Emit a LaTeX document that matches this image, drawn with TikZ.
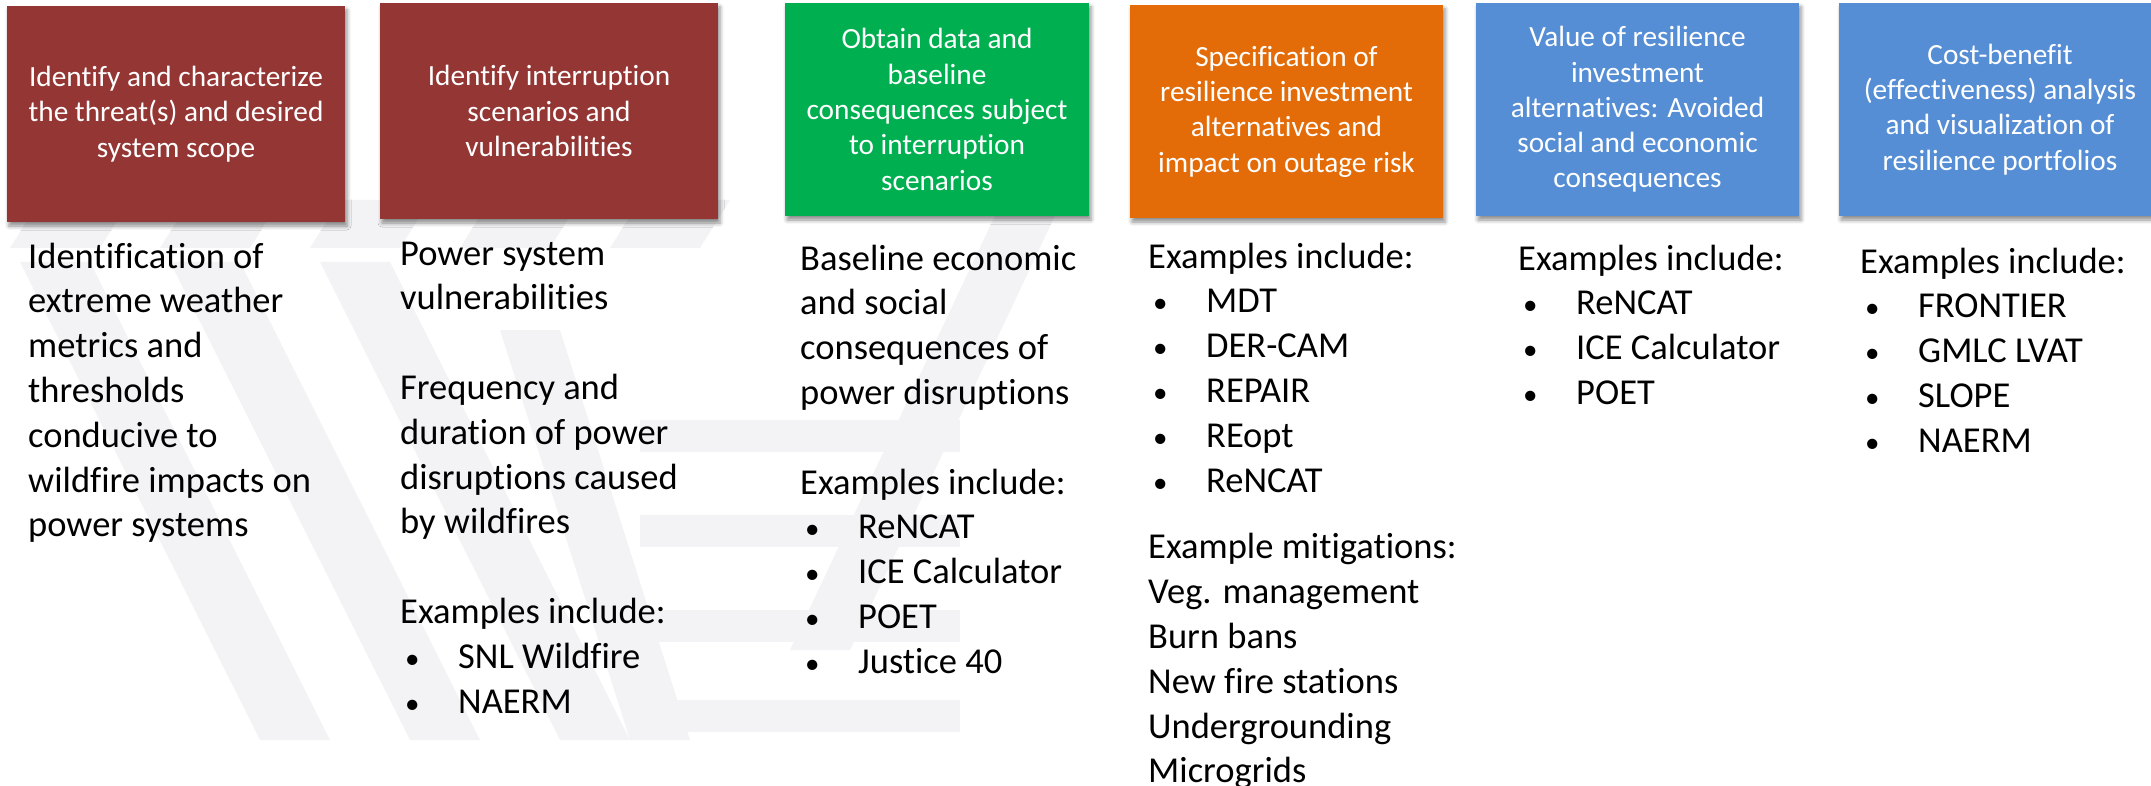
\documentclass[tikz,border=0pt]{standalone}
\usepackage{fontspec}
\setmainfont[Ligatures={NoCommon}]{Carlito}
\usetikzlibrary{shadows.blur}

\definecolor{stepred}{HTML}{943634}
\definecolor{stepgreen}{HTML}{00B050}
\definecolor{steporange}{HTML}{E36C09}
\definecolor{stepblue}{HTML}{558ED5}
\definecolor{markgray}{HTML}{F3F3F5}

% bullet item of a tool list
\newcommand{\toolitem}[1]{\makebox[58pt][l]{\hspace{5pt}{\fontsize{29}{29}\selectfont •}}#1}

\begin{document}
\begin{tikzpicture}[x=1pt, y=-1pt,
    stepbox/.style={fill=#1, text=white, align=center, inner sep=0pt,
        font=\fontsize{29.3}{35.3}\selectfont,
        blur shadow={shadow xshift=2pt, shadow yshift=-4pt,
            shadow blur radius=4pt, shadow opacity=45}},
    bodytext/.style={anchor=north west, align=left, inner sep=0pt,
        font=\fontsize{36.5}{44.8}\selectfont},
    watermark/.style={fill=markgray}]
        \useasboundingbox (0,0) rectangle (2151,786);
        % Draw faint background stripes
        \foreach \x in {0, 150, 300, 450, 600}
        \fill[watermark, xshift=\x pt] (40,200) -- (130,200) -- (100,248) -- (10,248) -- cycle;
        \foreach \x in {0, 150, 300}
        \fill[watermark, xshift=\x pt] (20,262) -- (90,262) -- (330,740) -- (260,740) -- cycle;
        \fill[watermark] (500,330) -- (560,330) -- (690,740) -- (630,740) -- cycle;
        \fill[watermark] (1000,205) -- (1060,205) -- (850,650) -- (790,650) -- cycle;
        \foreach \y in {420, 515, 610, 700}
        \fill[watermark] (640,\y) rectangle (960,\y+32);
        % Draw step boxes
        \node[stepbox=stepred, minimum width=338pt, minimum height=216pt] (threat) at (176,114)
            {Identify and characterize\\the threat(s) and desired\\system scope};
        \node[stepbox=stepred, minimum width=338pt, minimum height=216pt] (scenario) at (549,111)
            {Identify interruption\\scenarios and\\vulnerabilities};
        \node[stepbox=stepgreen, minimum width=304pt, minimum height=213pt] (baseline) at (937,109.5)
            {Obtain data and\\baseline\\consequences subject\\to interruption\\scenarios};
        \node[stepbox=steporange, minimum width=313pt, minimum height=213pt] (invest) at (1286.5,111.5)
            {Specification of\\resilience investment\\alternatives and\\impact on outage risk};
        \node[stepbox=stepblue, minimum width=323pt, minimum height=213pt] (value) at (1637.5,109.5)
            {Value of resilience\\investment\\alternatives: Avoided\\social and economic\\consequences};
        \node[stepbox=stepblue, minimum width=322pt, minimum height=213pt] (costben) at (2000,109.5)
            {Cost-benefit\\(effectiveness) analysis\\and visualization of\\resilience portfolios};
        % Draw texts below the boxes
        \node[bodytext] (threattxt) at (28,236.6)
            {\strut Identification of\\extreme weather\\metrics and\\thresholds\\conducive to\\wildfire impacts on\\power systems};
        \node[bodytext] (scenariotxt) at (400,233.6)
            {\strut Power system\\vulnerabilities\\[44.8pt]Frequency and\\duration of power\\disruptions caused\\by wildfires\\[44.8pt]%
            Examples include:\\\toolitem{SNL Wildfire}\\\toolitem{NAERM}};
        \node[bodytext] (baselinetxt) at (800,238.6)
            {\strut Baseline economic\\and social\\consequences of\\power disruptions\\[44.8pt]Examples include:\\%
            \toolitem{ReNCAT}\\\toolitem{ICE Calculator}\\\toolitem{POET}\\\toolitem{Justice 40}};
        \node[bodytext] (investtxt) at (1148,236.6)
            {\strut Examples include:\\\toolitem{MDT}\\\toolitem{DER-CAM}\\\toolitem{REPAIR}\\\toolitem{REopt}\\\toolitem{ReNCAT}\\[22pt]%
            Example mitigations:\\Veg. management\\Burn bans\\New fire stations\\Undergrounding\\Microgrids};
        \node[bodytext] (valuetxt) at (1518,238.6)
            {\strut Examples include:\\\toolitem{ReNCAT}\\\toolitem{ICE Calculator}\\\toolitem{POET}};
        \node[bodytext] (costbentxt) at (1860,241.6)
            {\strut Examples include:\\\toolitem{FRONTIER}\\\toolitem{GMLC LVAT}\\\toolitem{SLOPE}\\\toolitem{NAERM}};
\end{tikzpicture}
\end{document}
